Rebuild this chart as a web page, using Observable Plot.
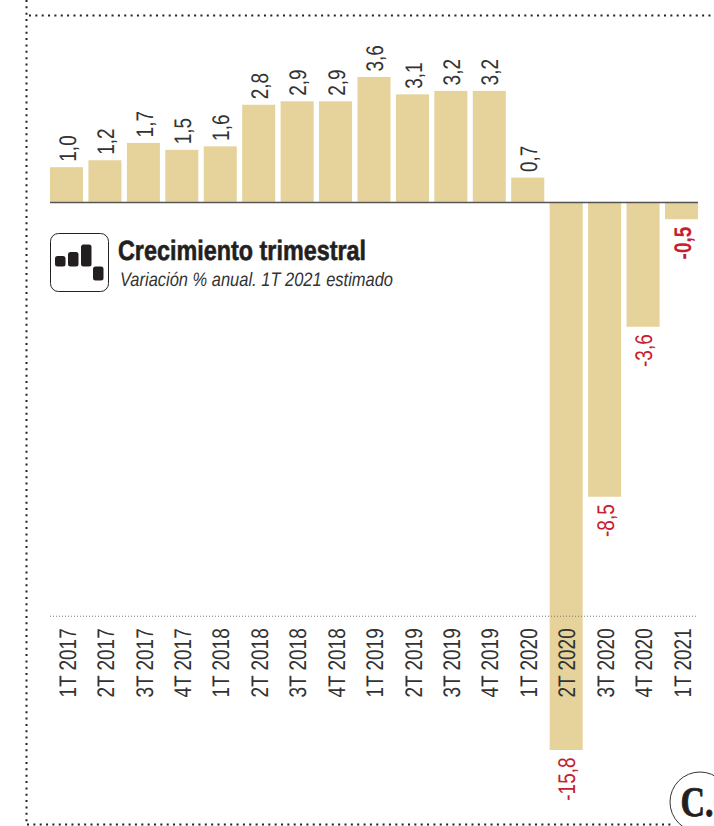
<!DOCTYPE html>
<html>
<head>
<meta charset="utf-8">
<script src="https://cdn.jsdelivr.net/npm/d3@7"></script>
<script src="https://cdn.jsdelivr.net/npm/@observablehq/plot@0.6"></script>
<style>
html,body{margin:0;padding:0;background:#fff;overflow:hidden}
#wrap{position:relative;width:714px;height:826px}
#overlay{position:absolute;left:0;top:0}
text{text-rendering:geometricPrecision}
</style>
</head>
<body>
<div id="wrap">
<div id="chart"></div>
<svg id="overlay" width="714" height="826" viewBox="0 0 714 826">
  <g stroke="#222" stroke-width="2" stroke-dasharray="2 4.35" fill="none">
    <line x1="26.5" y1="0" x2="26.5" y2="824"/>
    <line x1="29" y1="15.5" x2="714" y2="15.5"/>
    <line x1="27" y1="824.5" x2="672" y2="824.5"/>
  </g>
  <rect x="50.5" y="233.5" width="58" height="58" rx="8" fill="#fff" stroke="#222" stroke-width="1"/>
  <g fill="#231f20">
    <rect x="55" y="256" width="10.5" height="10.5" rx="2.5"/>
    <rect x="68" y="252" width="10.5" height="14.5" rx="2.5"/>
    <rect x="81" y="244.5" width="10.5" height="22" rx="2.5"/>
    <rect x="93" y="266.5" width="10.5" height="14" rx="2.5"/>
  </g>
  <text x="118" y="260" font-family="Liberation Sans" font-weight="700" font-size="28" fill="#231f20" stroke="#231f20" stroke-width="0.6" textLength="248" lengthAdjust="spacingAndGlyphs">Crecimiento trimestral</text>
  <text x="120" y="286" font-family="Liberation Sans" font-style="italic" font-size="19.5" fill="#333" textLength="273" lengthAdjust="spacingAndGlyphs">Variación % anual. 1T 2021 estimado</text>
  <circle cx="700" cy="802" r="30" fill="#fff" stroke="#333" stroke-width="1"/>
  <text x="680.5" y="816" font-family="Liberation Serif" font-weight="700" font-size="42" fill="#231f20" stroke="#231f20" stroke-width="0.8" textLength="33" lengthAdjust="spacingAndGlyphs">C.</text>
</svg>
</div>
<script>
const quarters = ["1T 2017","2T 2017","3T 2017","4T 2017","1T 2018","2T 2018","3T 2018","4T 2018","1T 2019","2T 2019","3T 2019","4T 2019","1T 2020","2T 2020","3T 2020","4T 2020","1T 2021"];
const growth = [1.0,1.2,1.7,1.5,1.6,2.8,2.9,2.9,3.6,3.1,3.2,3.2,0.7,-15.8,-8.5,-3.6,-0.5];
const boldQuarter = "1T 2021";
const dividerValue = -11.93;

const rows = quarters.map((q,i)=>({q, v:growth[i]}));
const fmt = d => d.v.toFixed(1).replace(".",",");
const font = {fontFamily:"Liberation Sans", fontSize:24, lineAnchor:"middle", rotate:-90, dx:1};
const ink = "#333", red = "#c4202e", tan = "#e6d39b";

const fig = Plot.plot({
  width:714, height:826,
  marginLeft:44.6, marginRight:10.6, marginTop:77, marginBottom:76,
  style:{background:"#fff", overflow:"visible"},
  x:{type:"band", domain:quarters, padding:0.14, round:false, label:null},
  y:{domain:[-15.8,3.6], label:null, axis:null},
  marks:[
    Plot.barY(rows,{x:"q", y:"v", fill:tan}),
    Plot.ruleY([0],{stroke:"#555", strokeWidth:1.5, insetLeft:5.4, insetRight:5.4}),
    Plot.ruleY([dividerValue],{stroke:"#777", strokeWidth:1, strokeDasharray:"1 2", insetLeft:5.4, insetRight:5.4}),
    Plot.text(rows.filter(d=>d.v>=0),{x:"q", y:"v", text:fmt, ...font, dy:-6, textAnchor:"start", fill:ink}),
    Plot.text(rows.filter(d=>d.v<0 && d.q!==boldQuarter),{x:"q", y:"v", text:fmt, ...font, dy:7, textAnchor:"end", fill:red}),
    Plot.text(rows.filter(d=>d.q===boldQuarter),{x:"q", y:"v", text:fmt, ...font, dy:7, textAnchor:"end", fill:red, fontWeight:700}),
    Plot.axisX({anchor:"bottom", tickSize:0, tickRotate:-90, tickPadding:0, textAnchor:"start", lineAnchor:"middle", dy:-53, dx:1, fontSize:24, fontFamily:"Liberation Sans", fill:ink, label:null})
  ]
});
document.getElementById("chart").appendChild(fig);
// Condense the rotated labels: the reference uses a narrow grotesque
fig.querySelectorAll("text").forEach(t=>{
  t.setAttribute("textLength", (t.getComputedTextLength()*0.79).toFixed(1));
  t.setAttribute("lengthAdjust","spacingAndGlyphs");
});
</script>
</body>
</html>
